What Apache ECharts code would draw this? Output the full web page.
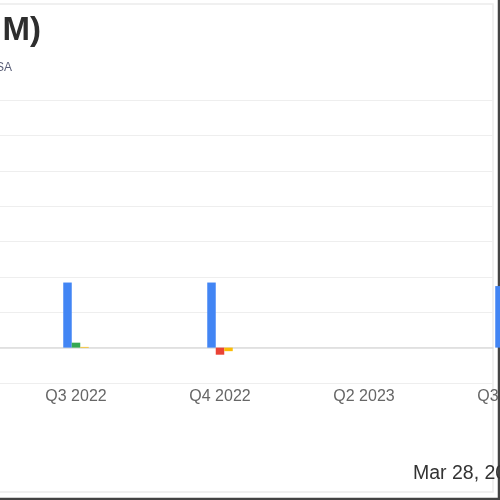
<!DOCTYPE html>
<html>
<head>
<meta charset="utf-8">
<script src="https://cdn.jsdelivr.net/npm/echarts@6/dist/echarts.min.js"></script>
<style>html,body{margin:0;padding:0;background:#fff}#c{width:500px;height:500px}</style>
</head>
<body>
<div id="c"></div>
<script>
const categories = ['Q3 2022', 'Q4 2022', 'Q2 2023', 'Q3 2023'];
const revenue = [92, 92, null, 87];
const earnings = [7, -10, null, null];
const other = [1, -5, null, null];
const titleText = 'Earnings & Revenue History (USD M)';
const subtitleText = 'Quarterly results, USA';
const dateText = 'Mar 28, 2024';

const chart = echarts.init(document.getElementById('c'), null, {renderer: 'canvas'});
const yCommon = {type: 'value', min: -50, max: 350, interval: 50};
chart.setOption({
  animation: false,
  grid: [
    {left: 0, right: 7, top: 100, bottom: 117, outerBoundsMode: 'none'},
    {left: 4, right: -80, top: 100, bottom: 117, outerBoundsMode: 'none'}
  ],
  xAxis: [
    {gridIndex: 0, type: 'category', data: categories, axisLine: {show: true, onZero: true, lineStyle: {color: '#dcdcdc', width: 1.5}},
     axisTick: {show: false}, axisLabel: {show: false}, splitLine: {show: false}},
    {gridIndex: 1, type: 'category', data: categories, axisLine: {show: false, onZero: false}, axisTick: {show: false},
     axisLabel: {color: '#666', fontSize: 16, fontFamily: 'Liberation Sans, Arial, sans-serif', margin: 6},
     splitLine: {show: false}}
  ],
  yAxis: [
    Object.assign({gridIndex: 0, axisLabel: {show: false}, axisLine: {show: false}, axisTick: {show: false},
      splitLine: {show: true, lineStyle: {color: '#eeeeee', width: 1}}}, yCommon),
    Object.assign({gridIndex: 1, show: false, splitLine: {show: false}}, yCommon)
  ],
  series: [
    {type: 'bar', xAxisIndex: 1, yAxisIndex: 1, data: revenue, barWidth: 8.5, barGap: '0%',
     itemStyle: {color: '#4285f4'}},
    {type: 'bar', xAxisIndex: 1, yAxisIndex: 1, data: earnings, barWidth: 8.5, barGap: '0%',
     itemStyle: {color: function (p) { return p.value >= 0 ? '#34a853' : '#ea4335'; }}},
    {type: 'bar', xAxisIndex: 1, yAxisIndex: 1, data: other, barWidth: 8.5, barGap: '0%',
     itemStyle: {color: '#fbbc05'}}
  ],
  graphic: [
    {type: 'rect', shape: {x: -5, y: 4, width: 498, height: 488}, style: {fill: 'none', stroke: '#ececec', lineWidth: 1.5}, silent: true},
    {type: 'line', shape: {x1: 0, y1: 499, x2: 500, y2: 499}, style: {stroke: '#444', lineWidth: 2.5}},
    {type: 'line', shape: {x1: 499, y1: 0, x2: 499, y2: 500}, style: {stroke: '#444', lineWidth: 2.5}},
    {type: 'text', x: 41, y: 31, style: {text: titleText, textAlign: 'right', textVerticalAlign: 'middle',
      font: 'bold 33px "Liberation Sans", Arial, sans-serif', fill: '#2e2e2e'}},
    {type: 'text', x: 12, y: 68, style: {text: subtitleText, textAlign: 'right', textVerticalAlign: 'middle',
      font: '12px "Liberation Sans", Arial, sans-serif', fill: '#5a5f78'}},
    {type: 'text', x: 413, y: 474, style: {text: dateText, textAlign: 'left', textVerticalAlign: 'middle',
      font: '19.5px "Liberation Sans", Arial, sans-serif', fill: '#333'}}
  ]
});
</script>
</body>
</html>
